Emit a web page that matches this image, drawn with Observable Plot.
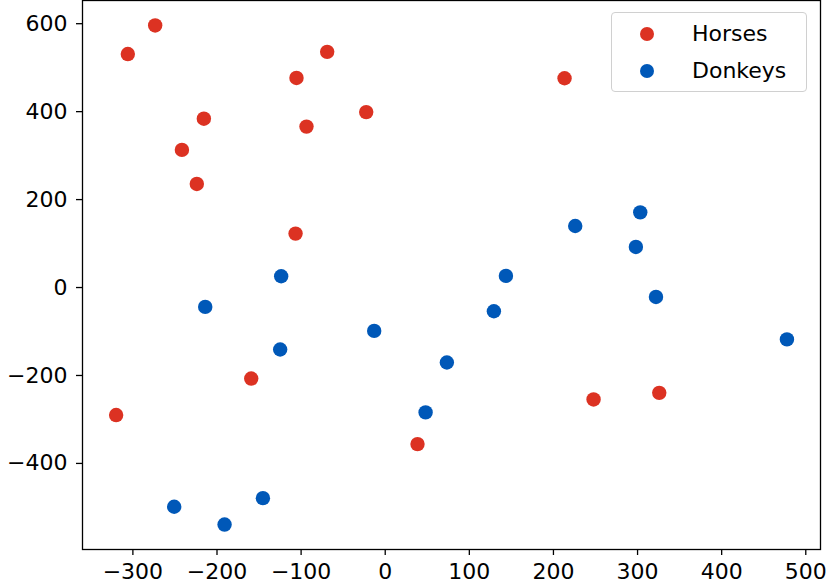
<!DOCTYPE html>
<html>
<head>
<meta charset="utf-8">
<script src="https://cdn.jsdelivr.net/npm/d3@7"></script>
<script src="https://cdn.jsdelivr.net/npm/@observablehq/plot@0.6"></script>
<style>
  html, body { margin: 0; padding: 0; background: #fff; }
  #wrap { position: relative; width: 830px; height: 588px; font-family: "DejaVu Sans", sans-serif; }
  #legend {
    position: absolute; left: 611px; top: 12px; width: 196px; height: 80px;
    border: 1px solid #d0d0d0; border-radius: 4px; background: rgba(255,255,255,0.8);
    box-sizing: border-box;
  }
  .item { position: absolute; left: 0; height: 26px; font-size: 22px; line-height: 26px; color: #000; }
  .sw { position: absolute; left: 28px; top: 6px; width: 14.4px; height: 14.4px; border-radius: 50%; }
  .lab { position: absolute; left: 80px; top: 0; white-space: nowrap; }
</style>
</head>
<body>
<div id="wrap"></div>
<script>
const seriesNames = ["Horses", "Donkeys"];
const seriesColors = ["#dc3222", "#0058b8"];

const horsesX = [-273.5, -306, -69, -105.5, -22.6, -215.6, -93.6, -241.7, -224, -106.6, 213.2, -159.3, -319.9, 38.4, 247.7, 325.8];
const horsesY = [596, 531, 536, 476.6, 399, 384, 366, 313, 235.6, 122.7, 476, -207, -290, -356, -254.5, -239.5];

const donkeysX = [-123.7, -214, -124.9, -13.1, 73.3, 48, 129.2, 143.5, 225.9, 303.2, 298, 321.9, 477.6, -250.9, -191, -145.4];
const donkeysY = [25.7, -44, -141, -98.6, -170.5, -284, -53.9, 26.4, 140, 171, 92.3, -21.4, -118, -498.6, -539, -479];

const xTicks = [-300, -200, -100, 0, 100, 200, 300, 400, 500];
const yTicks = [-400, -200, 0, 200, 400, 600];

const data = [
  ...horsesX.map((x, i) => ({x, y: horsesY[i], s: "Horses"})),
  ...donkeysX.map((x, i) => ({x, y: donkeysY[i], s: "Donkeys"}))
];

const plot = Plot.plot({
  width: 830,
  height: 588,
  marginLeft: 82,
  marginRight: 10,
  marginTop: 0,
  marginBottom: 39,
  style: {fontFamily: "DejaVu Sans, sans-serif", fontSize: "22px", color: "#000", background: "#fff"},
  x: {domain: [-359.9, 517.5], ticks: xTicks, label: null},
  y: {domain: [-595.75, 652.75], ticks: yTicks, label: null},
  color: {domain: seriesNames, range: seriesColors},
  marks: [
    Plot.axisX({ticks: xTicks, tickSize: 6, tickPadding: 8, label: null, strokeWidth: 1.3, fontSize: 22}),
    Plot.axisY({ticks: yTicks, tickSize: 6, tickPadding: 9, label: null, strokeWidth: 1.3, fontSize: 22}),
    Plot.dot(data, {x: "x", y: "y", fill: "s", r: 7.2}),
    Plot.frame({stroke: "#000", strokeWidth: 1.3})
  ]
});

const wrap = document.getElementById("wrap");
wrap.appendChild(plot);

const legend = document.createElement("div");
legend.id = "legend";
seriesNames.forEach((name, i) => {
  const item = document.createElement("div");
  item.className = "item";
  item.style.top = (8 + i * 37) + "px";
  item.style.width = "100%";
  const sw = document.createElement("span");
  sw.className = "sw";
  sw.style.background = seriesColors[i];
  const lab = document.createElement("span");
  lab.className = "lab";
  lab.textContent = name;
  item.appendChild(sw);
  item.appendChild(lab);
  legend.appendChild(item);
});
wrap.appendChild(legend);
</script>
</body>
</html>
